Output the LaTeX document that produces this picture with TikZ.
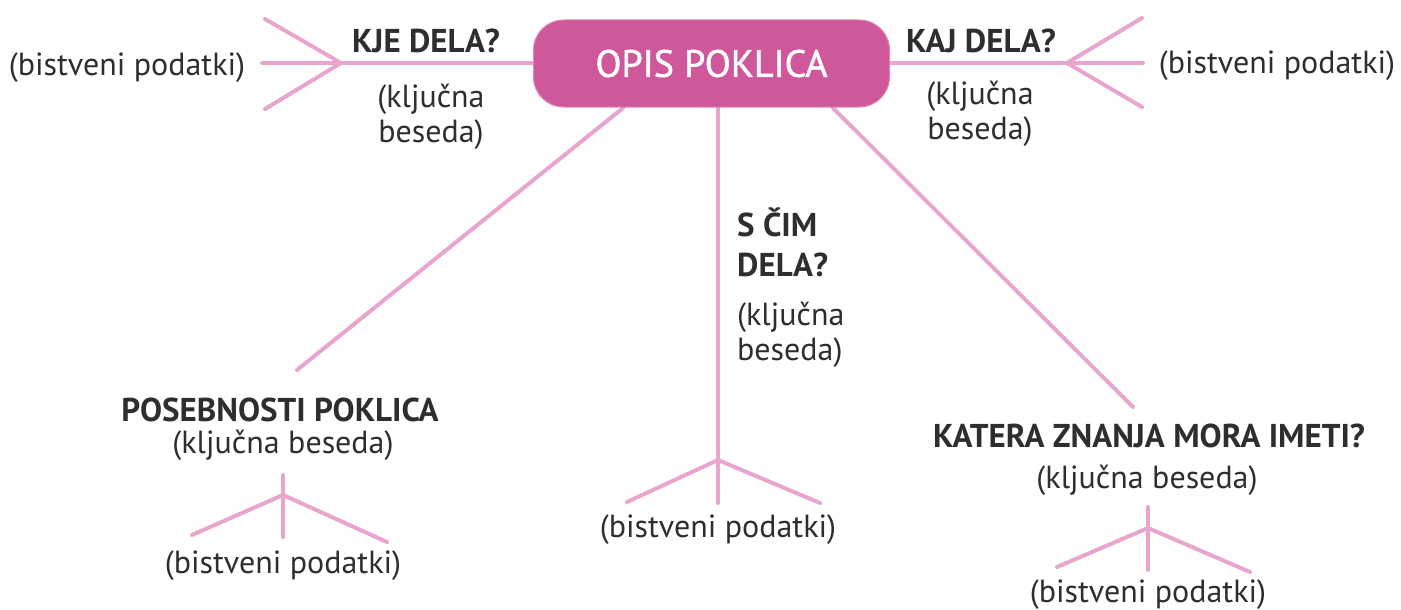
\documentclass[tikz,border=0pt]{standalone}
\usepackage{fontspec}
\setmainfont{PT Sans}
\newfontfamily\titlefont[UprightFeatures={FakeBold=1.3}]{PT Sans}
\usetikzlibrary{backgrounds}
\definecolor{boxpink}{HTML}{CF589B}
\definecolor{linepink}{HTML}{E8A6CE}
\definecolor{txt}{HTML}{2E2E2E}
\tikzset{
  branch/.style={draw=linepink, line width=4pt, line cap=round},
  head/.style={text=txt, font=\fontsize{33}{40}\selectfont\bfseries, inner sep=0pt},
  body/.style={text=txt, font=\fontsize{32}{35}\selectfont, inner sep=0pt},
  mainbox/.style={fill=boxpink, draw=boxpink!70!white, line width=1pt, rounded corners=30pt,
    minimum width=356pt, minimum height=87pt, text=white,
    font=\titlefont\fontsize{38}{40}\selectfont, inner sep=0pt}
}
\begin{document}
\begin{tikzpicture}[x=1pt,y=-1pt]
\useasboundingbox (0,0) rectangle (1401,610);
\node[mainbox] (box) at (711.5,63.5) {OPIS POKLICA};
% anchor points on box
\coordinate (sW) at (533,63);
\coordinate (sE) at (890,63);
\coordinate (sDL) at (623,108);
\coordinate (sM) at (718,108);
\coordinate (sDR) at (833,108);
% left fork
\coordinate (fL) at (341,63);
\coordinate (fLa) at (265,19);
\coordinate (fLb) at (262,63);
\coordinate (fLc) at (265,109);
% right fork
\coordinate (fR) at (1067,63);
\coordinate (fRa) at (1142,18);
\coordinate (fRb) at (1143,63);
\coordinate (fRc) at (1142,107);
% diagonals
\coordinate (eDL) at (297,370);
\coordinate (eDR) at (1133,407);
% middle
\coordinate (fM) at (718,460);
\coordinate (fMa) at (627,502);
\coordinate (fMb) at (718,503);
\coordinate (fMc) at (820,503);
% bottom left fork
\coordinate (tBL) at (283,475);
\coordinate (fBL) at (283,495);
\coordinate (fBLa) at (192,535);
\coordinate (fBLb) at (283,537);
\coordinate (fBLc) at (387,542);
% bottom right fork
\coordinate (tBR) at (1148,507);
\coordinate (fBR) at (1148,528);
\coordinate (fBRa) at (1057,567);
\coordinate (fBRb) at (1148,570);
\coordinate (fBRc) at (1250,572);
\begin{scope}[on background layer]
\draw[branch] (sW) -- (fL) -- (fLb);
\draw[branch] (fL) -- (fLa);
\draw[branch] (fL) -- (fLc);
\draw[branch] (sE) -- (fR) -- (fRb);
\draw[branch] (fR) -- (fRa);
\draw[branch] (fR) -- (fRc);
\draw[branch] (sDL) -- (eDL);
\draw[branch] (sDR) -- (eDR);
\draw[branch] (sM) -- (fM) -- (fMb);
\draw[branch] (fM) -- (fMa);
\draw[branch] (fM) -- (fMc);
\draw[branch] (tBL) -- (fBL) -- (fBLb);
\draw[branch] (fBL) -- (fBLa);
\draw[branch] (fBL) -- (fBLc);
\draw[branch] (tBR) -- (fBR) -- (fBRb);
\draw[branch] (fBR) -- (fBRa);
\draw[branch] (fBR) -- (fBRc);
\end{scope}
% texts
\node[head] (kje) at (426,41) {KJE DELA?};
\node[body, align=center] (kjL) at (431,117) {(ključna\\beseda)};
\node[body] (bpL) at (127,68) {(bistveni podatki)};
\node[head] (kaj) at (981,41) {KAJ DELA?};
\node[body, align=center] (kjR) at (980,114) {(ključna\\beseda)};
\node[body] (bpR) at (1277,66) {(bistveni podatki)};
\node[head, align=left, anchor=west] (scim) at (737,242) {S ČIM\\DELA?};
\node[body, align=left, anchor=west] (kjM) at (737,335) {(ključna\\beseda)};
\node[body] (bpM) at (718,530) {(bistveni podatki)};
\node[head] (pos) at (280,410) {POSEBNOSTI POKLICA};
\node[body] (kjBL) at (283,445) {(ključna beseda)};
\node[body] (bpBL) at (283,566) {(bistveni podatki)};
\node[head] (kat) at (1149,436) {KATERA ZNANJA MORA IMETI?};
\node[body] (kjBR) at (1147,480) {(ključna beseda)};
\node[body] (bpBR) at (1148,595) {(bistveni podatki)};
\end{tikzpicture}
\end{document}
